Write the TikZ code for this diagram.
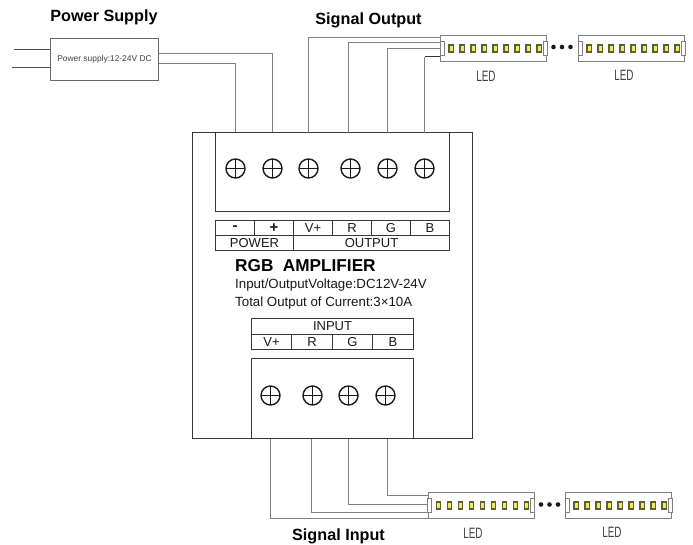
\documentclass[tikz,border=0pt]{standalone}
\usepackage{fontspec}
\usepackage{graphicx}
\setmainfont{Liberation Sans}
\usetikzlibrary{calc}
\definecolor{boxline}{gray}{0.22}
\definecolor{wiregray}{gray}{0.5}
\definecolor{stripline}{gray}{0.5}
\definecolor{chipdark}{RGB}{95,95,55}
\definecolor{chiplight}{RGB}{240,235,90}
\tikzset{
  box/.style={draw=boxline,line width=1pt,inner sep=0pt,fill=white},
  cell/.style={draw=boxline,line width=1pt,inner sep=0pt,font=\fontsize{13}{13}\selectfont,text=black!90},
  screw/.style={circle,draw=black!90,line width=1.4pt,minimum size=19pt,inner sep=0pt,
    path picture={\draw[black!90,line width=1pt]
      (path picture bounding box.north)--(path picture bounding box.south)
      (path picture bounding box.west)--(path picture bounding box.east);}},
  wire/.style={draw=wiregray,line width=1pt},
  darkwire/.style={draw=black!80,line width=1pt},
  title/.style={font=\fontsize{16.2}{17}\selectfont\bfseries,text=black,inner sep=0pt},
  ledlabel/.style={font=\fontsize{15}{15}\selectfont,text=black!75,inner sep=0pt},
  strip/.style={draw=stripline,line width=1pt,inner sep=0pt,fill=white,minimum width=106pt,minimum height=26pt},
  infotext/.style={anchor=west,inner sep=0pt,font=\fontsize{13.3}{14}\selectfont,text=black!90},
  dotmark/.style={circle,fill=black!90,inner sep=0pt,minimum size=4.6pt},
  clip/.style={draw=stripline,fill=white,line width=.8pt}
}
\newcommand{\ledstrip}[3]{%
  \node[strip] (#1) at (#2,#3) {};
  \draw[clip] ($(#1.west)+(0,-7)$) rectangle ($(#1.west)+(4,7)$);
  \draw[clip] ($(#1.east)+(0,-7)$) rectangle ($(#1.east)+(-4,7)$);
  \foreach \k in {0,...,8}{
    \fill[chipdark] ($(#1.west)+(8+\k*11,-4.5)$) rectangle ($(#1.west)+(13.8+\k*11,4.5)$);
    \fill[chiplight] ($(#1.west)+(9.6+\k*11,-2.4)$) rectangle ($(#1.west)+(12.6+\k*11,2.4)$);
  }
}
\begin{document}
\begin{tikzpicture}[x=1pt,y=-1pt]
\useasboundingbox[fill=white] (0,0) rectangle (693,544);

% titles
\node[title] (tpower) at (104,17) {Power Supply};
\node[title] (toutput) at (368.5,20.5) {Signal Output};
\node[title] (tinput) at (338.5,536) {Signal Input};

% power supply
\node[draw=wiregray!80!black,line width=1pt,inner sep=0pt,minimum width=108pt,minimum height=42pt,
  font=\fontsize{8.4}{10}\selectfont,text=black!75] (psu) at (104.5,59.5) {Power supply:12-24V DC};
\coordinate (inA) at (14,49.5);
\coordinate (inB) at (12,67.5);
\draw[draw=black!70,line width=.8pt] (inA) -- (psu.west |- inA);
\draw[draw=black!70,line width=.8pt] (inB) -- (psu.west |- inB);

% amplifier body
\node[box,minimum width=280pt,minimum height=306pt] (amp) at (332.5,285.5) {};
\node[box,minimum width=234pt,minimum height=79pt] (termT) at (332.5,172) {};
\node[box,minimum width=162pt,minimum height=80pt] (termB) at (332.5,398.5) {};

% top screws
\node[screw] (a1) at (235.5,168.5) {};
\node[screw] (a2) at (272.5,168.5) {};
\node[screw] (a3) at (308.5,168.5) {};
\node[screw] (a4) at (350.5,168.5) {};
\node[screw] (a5) at (387.5,168.5) {};
\node[screw] (a6) at (424.5,168.5) {};
% bottom screws
\node[screw] (b1) at (270.5,395.5) {};
\node[screw] (b2) at (312.5,395.5) {};
\node[screw] (b3) at (348.5,395.5) {};
\node[screw] (b4) at (385.5,395.5) {};

% output table
\node[cell,minimum width=39pt,minimum height=15pt,font=\fontsize{15}{15}\selectfont\bfseries] (c1) at (235,228) {-};
\node[cell,minimum width=39pt,minimum height=15pt,font=\fontsize{15}{15}\selectfont\bfseries] (c2) at (274,228) {+};
\node[cell,minimum width=39pt,minimum height=15pt] (c3) at (313,228) {V+};
\node[cell,minimum width=39pt,minimum height=15pt] (c4) at (352,228) {R};
\node[cell,minimum width=39pt,minimum height=15pt] (c5) at (391,228) {G};
\node[cell,minimum width=39pt,minimum height=15pt] (c6) at (430,228) {B};
\node[cell,minimum width=78pt,minimum height=15pt] (cpower) at (254.5,243) {POWER};
\node[cell,minimum width=156pt,minimum height=15pt] (coutput) at (371.5,243) {OUTPUT};

% info text
\node[anchor=west,inner sep=0pt,font=\fontsize{17.2}{18}\selectfont\bfseries] (name) at (235,266) {RGB\ \ AMPLIFIER};
\node[infotext] (volt) at (235,285) {Input/OutputVoltage:DC12V-24V};
\node[infotext] (curr) at (235,303) {Total Output of Current:3×10A};

% input table
\node[cell,minimum width=162pt,minimum height=16pt] (cinput) at (332.5,326.5) {INPUT};
\node[cell,minimum width=40pt,minimum height=15pt] (d1) at (271.5,342) {V+};
\node[cell,minimum width=41pt,minimum height=15pt] (d2) at (312,342) {R};
\node[cell,minimum width=40pt,minimum height=15pt] (d3) at (352.5,342) {G};
\node[cell,minimum width=41pt,minimum height=15pt] (d4) at (393,342) {B};

% LED strips
\ledstrip{led1}{493.5}{48.5}
\ledstrip{led2}{631.5}{48.5}
\ledstrip{led3}{481}{505.5}
\ledstrip{led4}{618.5}{505.5}

% dots
\node[dotmark] (e1) at (553.5,47) {};
\node[dotmark] (e2) at (562,47) {};
\node[dotmark] (e3) at (570.5,47) {};
\node[dotmark] (f1) at (541,504.5) {};
\node[dotmark] (f2) at (549.5,504.5) {};
\node[dotmark] (f3) at (558,504.5) {};

% LED labels
\node[ledlabel] (l1) at (486,76) {\scalebox{.66}[1]{LED}};
\node[ledlabel] (l2) at (624,75.5) {\scalebox{.66}[1]{LED}};
\node[ledlabel] (l3) at (473,533.5) {\scalebox{.66}[1]{LED}};
\node[ledlabel] (l4) at (612,532.5) {\scalebox{.66}[1]{LED}};

% wire terminals
\coordinate (pa) at (158.5,53.5);
\coordinate (pb) at (158.5,63.5);
\coordinate (oA) at (308.5,132.5);
\coordinate (oB) at (348.5,132.5);
\coordinate (oC) at (387.5,132.5);
\coordinate (oD) at (424.5,132.5);
\coordinate (iA) at (270.5,438.5);
\coordinate (iB) at (311.5,438.5);
\coordinate (iC) at (348.5,438.5);
\coordinate (iD) at (387.5,438.5);

% power wires
\draw[wire] (psu.east |- pa) -| (a2 |- termT.north);
\draw[wire] (psu.east |- pb) -| (a1 |- termT.north);

% output wires
\draw[wire] (oA) |- (led1.west |- 0,37.5);
\draw[wire] (oB) |- (led1.west |- 0,42.5);
\draw[wire] (oC) |- (led1.west |- 0,48.5);
\draw[wire] (oD) -- (oD |- 0,56.5);
\draw[darkwire] (oD |- 0,56.5) -- (led1.west |- 0,56.5);

% input wires
\draw[wire] (iA) |- (led3.west |- 0,518.5);
\draw[wire] (iB) |- (led3.west |- 0,512.5);
\draw[wire] (iC) |- (led3.west |- 0,504.5);
\draw[wire] (iD) |- (led3.west |- 0,495.5);
\end{tikzpicture}
\end{document}
